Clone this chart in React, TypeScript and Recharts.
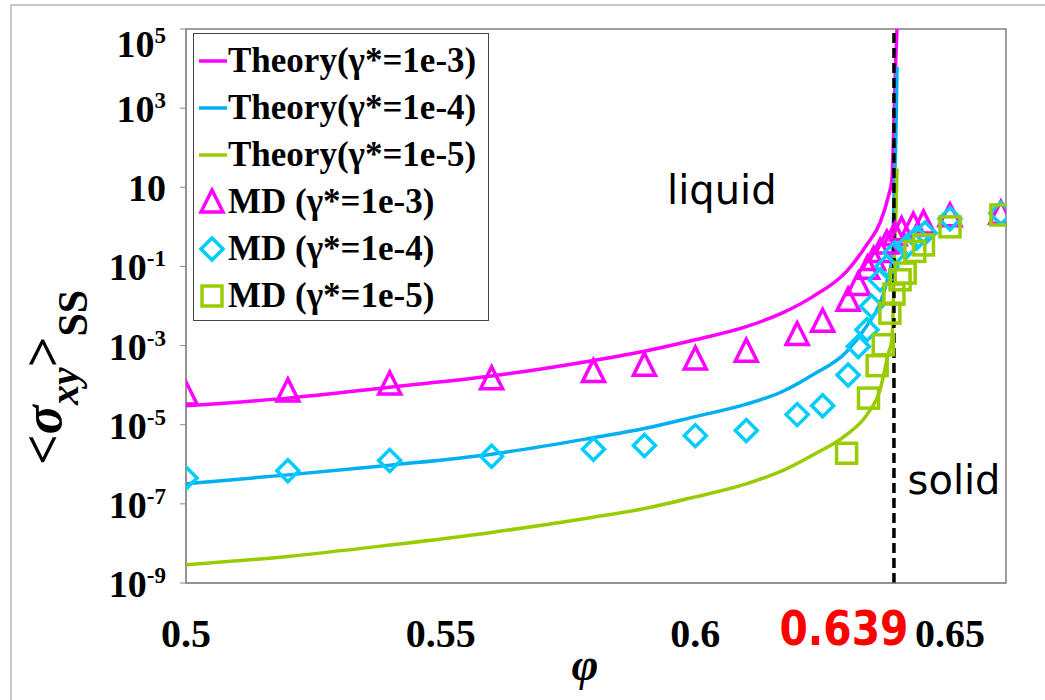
import React from 'react';
import { ComposedChart, Line, Scatter, XAxis, YAxis, ReferenceLine, ReferenceArea, ReferenceDot } from 'recharts';

// theory curves
const theoryPhi = [0.5, 0.52, 0.54, 0.56, 0.58, 0.59, 0.6, 0.61, 0.617, 0.623, 0.6297, 0.6337, 0.6363, 0.6379, 0.6386, 0.6391, 0.6394, 0.6396];
const theory1e3 = [3.0e-5, 4.7e-5, 8.9e-5, 1.7e-4, 4.2e-4, 7.2e-4, 1.4e-3, 3.0e-3, 6.6e-3, 1.7e-2, 7.5e-2, 0.36, 1.3, 5.9, 15.5, 1350, 2.5e4, 1e5];
const theory1e4 = [3.2e-7, 5.4e-7, 9.5e-7, 1.8e-6, 4.7e-6, 8.0e-6, 1.6e-5, 3.3e-5, 6.8e-5, 1.8e-4, 7.0e-4, 3.2e-3, 1.2e-2, 5.6e-2, 0.15, 12.6, 250, 1.1e4];
const theory1e5 = [2.9e-9, 4.7e-9, 9.1e-9, 1.9e-8, 4.6e-8, 7.6e-8, 1.5e-7, 3.2e-7, 6.8e-7, 1.7e-6, 5.6e-6, 1.8e-5, 7.9e-5, 6.3e-4, 1.4e-3, 0.13, 2.5, 30];

// MD points
const mdPhi1e3 = [0.5, 0.52, 0.54, 0.56, 0.58, 0.59, 0.6, 0.61, 0.62, 0.625, 0.63, 0.632, 0.6338, 0.635, 0.6363, 0.6376, 0.6392, 0.6405, 0.6428, 0.6448, 0.65, 0.66];
const md1e3 = [6.0e-5, 7.1e-5, 1.07e-4, 1.45e-4, 2.2e-4, 3.2e-4, 4.6e-4, 7.2e-4, 1.9e-3, 4.1e-3, 1.4e-2, 3.5e-2, 0.09, 0.15, 0.24, 0.39, 0.63, 0.85, 1.1, 1.25, 1.9, 2.2];
const mdPhi1e4 = [0.5, 0.52, 0.54, 0.56, 0.58, 0.59, 0.6, 0.61, 0.62, 0.625, 0.63, 0.632, 0.6337, 0.6346, 0.6363, 0.6376, 0.6392, 0.6415, 0.6435, 0.6451, 0.65, 0.66];
const md1e4 = [4.5e-7, 6.9e-7, 1.24e-6, 1.6e-6, 2.4e-6, 3.0e-6, 5.3e-6, 7.1e-6, 1.8e-5, 3.0e-5, 1.8e-4, 9.5e-4, 2.5e-3, 9.8e-3, 0.046, 0.1, 0.22, 0.32, 0.53, 0.7, 1.6, 2.2];
const mdPhi1e5 = [0.6297, 0.634, 0.6357, 0.6369, 0.6382, 0.639, 0.6402, 0.6412, 0.6431, 0.6448, 0.65, 0.66];
const md1e5 = [1.9e-6, 4.7e-5, 3.1e-4, 1.05e-3, 6.6e-3, 0.02, 0.046, 0.068, 0.24, 0.35, 1.0, 2.0];

const xTicks = [0.5, 0.55, 0.6, 0.65];
const xTickLabels = ['0.5', '0.55', '0.6', '0.65'];
const yTicks = [1e-9, 1e-7, 1e-5, 1e-3, 1e-1, 10, 1e3, 1e5];
const yTickExps = ['-9', '-7', '-5', '-3', '-1', '', '3', '5'];
const phiJam = 0.639;

const MAGENTA = '#FF00FF';
const CYAN_LINE = '#00B0F0';
const CYAN_MARK = '#00CCFF';
const GREEN = '#99CC00';
const serif = "'Times New Roman', 'Liberation Serif', serif";
const sans = "'DejaVu Sans', Verdana, sans-serif";

const zip = (xs: number[], ys: number[]) => xs.map((x, i) => ({ x, y: ys[i] }));

const legendItems = [
  { label: 'Theory(γ*=1e-3)', color: MAGENTA, kind: 'line' },
  { label: 'Theory(γ*=1e-4)', color: CYAN_LINE, kind: 'line' },
  { label: 'Theory(γ*=1e-5)', color: GREEN, kind: 'line' },
  { label: 'MD (γ*=1e-3)', color: MAGENTA, kind: 'triangle' },
  { label: 'MD (γ*=1e-4)', color: CYAN_MARK, kind: 'diamond' },
  { label: 'MD (γ*=1e-5)', color: GREEN, kind: 'square' },
];

const Marker = ({ cx, cy, kind, color }: any) => {
  if (cx == null || cy == null) return null;
  const common = { fill: 'none', stroke: color, strokeWidth: 3.5 };
  if (kind === 'triangle') return <polygon points={`${cx},${cy - 12} ${cx - 11},${cy + 10} ${cx + 11},${cy + 10}`} {...common} />;
  if (kind === 'diamond') return <polygon points={`${cx},${cy - 11} ${cx + 11},${cy} ${cx},${cy + 11} ${cx - 11},${cy}`} {...common} />;
  if (kind === 'square') return <rect x={cx - 10} y={cy - 10} width={20} height={20} {...common} />;
  return <line x1={cx - 14} x2={cx + 14} y1={cy} y2={cy} stroke={color} strokeWidth={3.5} />;
};

const YTick = ({ x, y, payload }: any) => {
  const i = yTicks.indexOf(payload.value);
  const exp = yTickExps[i];
  const by = Math.max(y + 14, 57);
  return (
    <text x={x - 12} y={by} textAnchor="end" fontFamily={serif} fontWeight="bold" fontSize={38} fill="#000">
      10{exp ? <tspan dy={-14} fontSize={23}>{exp}</tspan> : null}
    </text>
  );
};

const XTick = ({ x, y, payload }: any) => (
  <text x={x} y={y + 56} textAnchor="middle" fontFamily={serif} fontWeight="bold" fontSize={40} fill="#000">
    {xTickLabels[xTicks.indexOf(payload.value)]}
  </text>
);

const YLabel = () => (
  <text x={61} y={465} transform="rotate(-90, 61, 465)" fontFamily={serif} fontWeight="bold" fontSize={54} fill="#000">
    {'<'}
    <tspan fontStyle="italic">σ</tspan>
    <tspan fontStyle="italic" fontSize={40} dy={17}>xy</tspan>
    <tspan dy={-17}>{'>'}</tspan>
    <tspan fontSize={42} dy={26}>SS</tspan>
  </text>
);

const XLabel = () => (
  <text x={585} y={680} textAnchor="middle" fontFamily={serif} fontWeight="bold" fontStyle="italic" fontSize={46} fill="#000">φ</text>
);

// the red φ_J label sits just left of the dashed line, under the axis
const JamLabel = ({ viewBox }: any) => {
  if (!viewBox) return null;
  const cx = viewBox.x - 50;
  const by = viewBox.y + viewBox.height + 62;
  return (
    <text x={0} y={0} transform={`translate(${cx}, ${by}) scale(0.85, 1)`} textAnchor="middle" fontFamily={sans} fontWeight="bold" fontSize={48} fill="#FF0000">
      0.639
    </text>
  );
};

const regionLabel = (text: string) => ({ viewBox }: any) => {
  if (!viewBox) return null;
  const cx = viewBox.x + (viewBox.width || 0) / 2;
  const cy = viewBox.y + (viewBox.height || 0) / 2;
  return (
    <text x={cx} y={cy} textAnchor="middle" dominantBaseline="central" fontFamily={sans} fontSize={40} fill="#000">{text}</text>
  );
};

const Legend = () => (
  <div style={{ position: 'absolute', left: 193, top: 33, width: 294, height: 283, border: '1px solid #444', background: '#fff', paddingTop: 3, boxSizing: 'content-box' }}>
    {legendItems.map((it) => (
      <div key={it.label} style={{ height: 47, display: 'flex', alignItems: 'center' }}>
        <svg width={34} height={30} style={{ flex: 'none' }}>
          <Marker cx={it.kind === 'line' ? 19 : 18} cy={15} kind={it.kind} color={it.color} />
        </svg>
        <span style={{ fontFamily: serif, fontWeight: 'bold', fontSize: 35, whiteSpace: 'nowrap', lineHeight: '47px' }}>{it.label}</span>
      </div>
    ))}
  </div>
);

export default function App() {
  return (
    <div style={{ position: 'absolute', left: 0, top: 0, width: 1045, height: 700, background: '#fff', overflow: 'hidden' }}>
      <div style={{ position: 'absolute', left: 10, top: 4, width: 1045, height: 700, borderTop: '2px solid #c8c8c8', borderLeft: '2px solid #c8c8c8' }} />
      <ComposedChart width={1045} height={700} margin={{ top: 29, right: 39, left: 0, bottom: 0 }} style={{ position: 'absolute', left: 0, top: 0 }}>
        <XAxis
          type="number"
          dataKey="x"
          domain={[0.5, 0.661]}
          ticks={xTicks}
          allowDataOverflow
          height={117}
          tickLine={false}
          axisLine={{ stroke: '#888' }}
          tick={<XTick />}
          label={<XLabel />}
        />
        <YAxis
          type="number"
          dataKey="y"
          scale="log"
          domain={[1e-9, 1e5]}
          ticks={yTicks}
          allowDataOverflow
          width={186}
          tickSize={6}
          tickMargin={2}
          tickLine={{ stroke: '#888' }}
          axisLine={{ stroke: '#888' }}
          tick={<YTick />}
          label={<YLabel />}
        />
        <ReferenceArea x1={0.5} x2={0.661} y1={1e-9} y2={1e5} fill="none" stroke="#808080" strokeWidth={1.5} />
        <Line data={zip(theoryPhi, theory1e3)} dataKey="y" type="monotone" stroke={MAGENTA} strokeWidth={3.5} dot={false} isAnimationActive={false} />
        <Line data={zip(theoryPhi, theory1e4)} dataKey="y" type="monotone" stroke={CYAN_LINE} strokeWidth={3.5} dot={false} isAnimationActive={false} />
        <Line data={zip(theoryPhi, theory1e5)} dataKey="y" type="monotone" stroke={GREEN} strokeWidth={3.5} dot={false} isAnimationActive={false} />
        <Scatter data={zip(mdPhi1e3, md1e3)} dataKey="y" isAnimationActive={false} shape={(p: any) => <Marker cx={p.cx} cy={p.cy} kind="triangle" color={MAGENTA} />} />
        <Scatter data={zip(mdPhi1e4, md1e4)} dataKey="y" isAnimationActive={false} shape={(p: any) => <Marker cx={p.cx} cy={p.cy} kind="diamond" color={CYAN_MARK} />} />
        <Scatter data={zip(mdPhi1e5, md1e5)} dataKey="y" isAnimationActive={false} shape={(p: any) => <Marker cx={p.cx} cy={p.cy} kind="square" color={GREEN} />} />
        <ReferenceLine x={phiJam} stroke="#000" strokeWidth={3.5} strokeDasharray="10 5" label={<JamLabel />} />
        <ReferenceDot x={0.6052} y={8.7} r={0} fill="none" stroke="none" label={regionLabel('liquid')} />
        <ReferenceDot x={0.6508} y={4e-7} r={0} fill="none" stroke="none" label={regionLabel('solid')} />
      </ComposedChart>
      <Legend />
    </div>
  );
}
